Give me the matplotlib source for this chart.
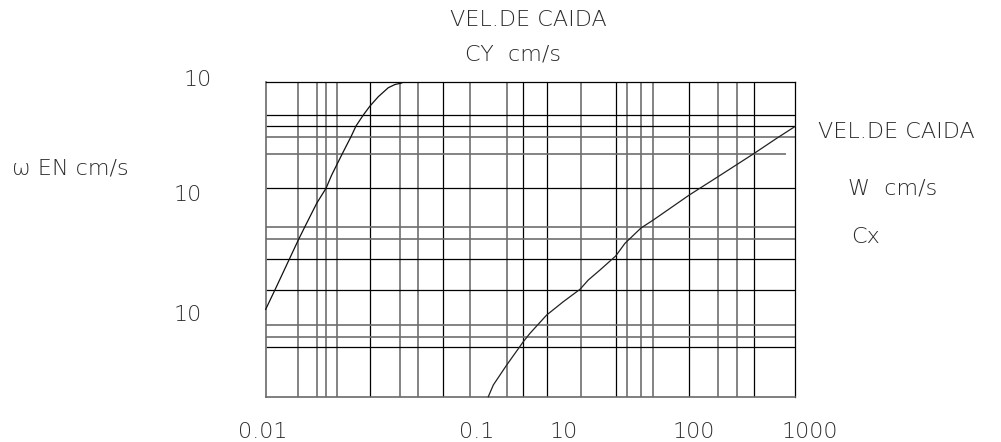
import matplotlib
matplotlib.use("Agg")
import matplotlib.pyplot as plt

# ---- data (chart units: x from left edge of grid, y from bottom edge of grid) ----
x_grid = [32.8, 51.5, 60.2, 71.2, 104.5, 134.5, 152.8, 177.0, 204.5, 241.2, 257.8,
          281.8, 315.2, 350.2, 361.8, 375.5, 387.8, 423.5, 452.5, 471.2, 488.8]
x_grid_major = [0, 0, 0, 0, 1, 0, 0, 1, 0, 0, 1, 1, 0, 1, 0, 0, 0, 1, 0, 0, 1]
y_grid = [281.7, 270.7, 260.0, 243.0, 208.4, 170.0, 157.4, 137.4, 106.7, 71.7, 60.0, 49.4]
y_grid_major = [1, 1, 0, 0, 1, 0, 0, 1, 1, 0, 0, 1]
y_grid_end = [529.5, 529.5, 529.5, 520.2, 529.5, 529.5, 529.5, 529.5, 529.5, 529.5, 529.5, 529.5]

cy_x = [0.2, 10.2, 32.8, 39.4, 51.2, 60.5, 66.2, 76.8, 85.5, 90.5, 97.8, 104.5,
        112.8, 122.8, 129.5, 136.2]
cy_y = [87.4, 108.4, 156.7, 170.0, 193.4, 208.4, 221.7, 243.0, 260.0, 270.7, 281.7,
        290.7, 300.0, 309.0, 312.2, 313.7]

w_x = [222.8, 227.8, 241.2, 257.8, 264.5, 281.2, 297.8, 314.5, 322.8, 334.5, 350.2,
       359.5, 375.5, 387.8, 423.8, 452.5, 488.8, 511.2, 529.5]
w_y = [0.0, 11.7, 31.7, 55.0, 63.4, 81.7, 95.0, 107.4, 116.7, 126.7, 140.7,
       153.4, 168.7, 176.7, 201.7, 220.0, 243.4, 258.4, 270.2]

x_tick_labels = ["0.01", "0.1", "10", "100", "1000"]
y_tick_labels = ["10", "10", "10"]

# ---- figure ----
W, H = 1001, 442
fig = plt.figure(figsize=(W / 100, H / 100), dpi=100)
fig.patch.set_facecolor("white")

L, R, T, B = 265.5, 795.0, 82.3, 396.7
ax = fig.add_axes([L / W, 1 - B / H, (R - L) / W, (B - T) / H])
ax.set_xlim(0, R - L)
ax.set_ylim(0, B - T)
ax.set_xticks([])
ax.set_yticks([])
for side in ["top", "right"]:
    ax.spines[side].set_color("black")
    ax.spines[side].set_linewidth(0.9)
for side in ["left", "bottom"]:
    ax.spines[side].set_color("#6a6a6a")
    ax.spines[side].set_linewidth(1.2)

BLACK = "#000000"
GRAY = "#6e6e6e"
for xv, m in zip(x_grid, x_grid_major):
    ax.axvline(xv, color=BLACK if m else GRAY, lw=0.9 if m else 1.2, zorder=1)
for yv, m, xe in zip(y_grid, y_grid_major, y_grid_end):
    ax.hlines(yv, 0, xe, color=BLACK if m else GRAY, lw=0.9 if m else 1.2, zorder=1)

ax.plot(cy_x, cy_y, color="#111111", lw=0.9, zorder=3, clip_on=False)
ax.plot(w_x, w_y, color="#222222", lw=0.9, zorder=3, clip_on=False)

# ---- text ----
FONT = dict(family="DejaVu Sans", fontweight="light", color="#2a2a2a", fontsize=16)

def ftext(x, y, s, ha="center", **kw):
    d = dict(FONT)
    d.update(kw)
    fig.text(x / W, 1 - y / H, s, ha=ha, va="center", **d)

ftext(528, 20, "VEL.DE CAIDA")
ftext(513, 54, "CY  cm/s")

for yp, s in zip([80, 195, 315], y_tick_labels):
    ftext(188 if yp != 80 else 198, yp, s)

ftext(12, 168, "ω EN cm/s", ha="left")

ftext(818, 132, "VEL.DE CAIDA", ha="left")
ftext(848, 188, "W  cm/s", ha="left")
ftext(851, 237, "Cx", ha="left")

for xp, s in zip([263, 477, 564, 694, 810], x_tick_labels):
    ftext(xp, 432, s)

fig.savefig("out.png", dpi=100, facecolor="white")
